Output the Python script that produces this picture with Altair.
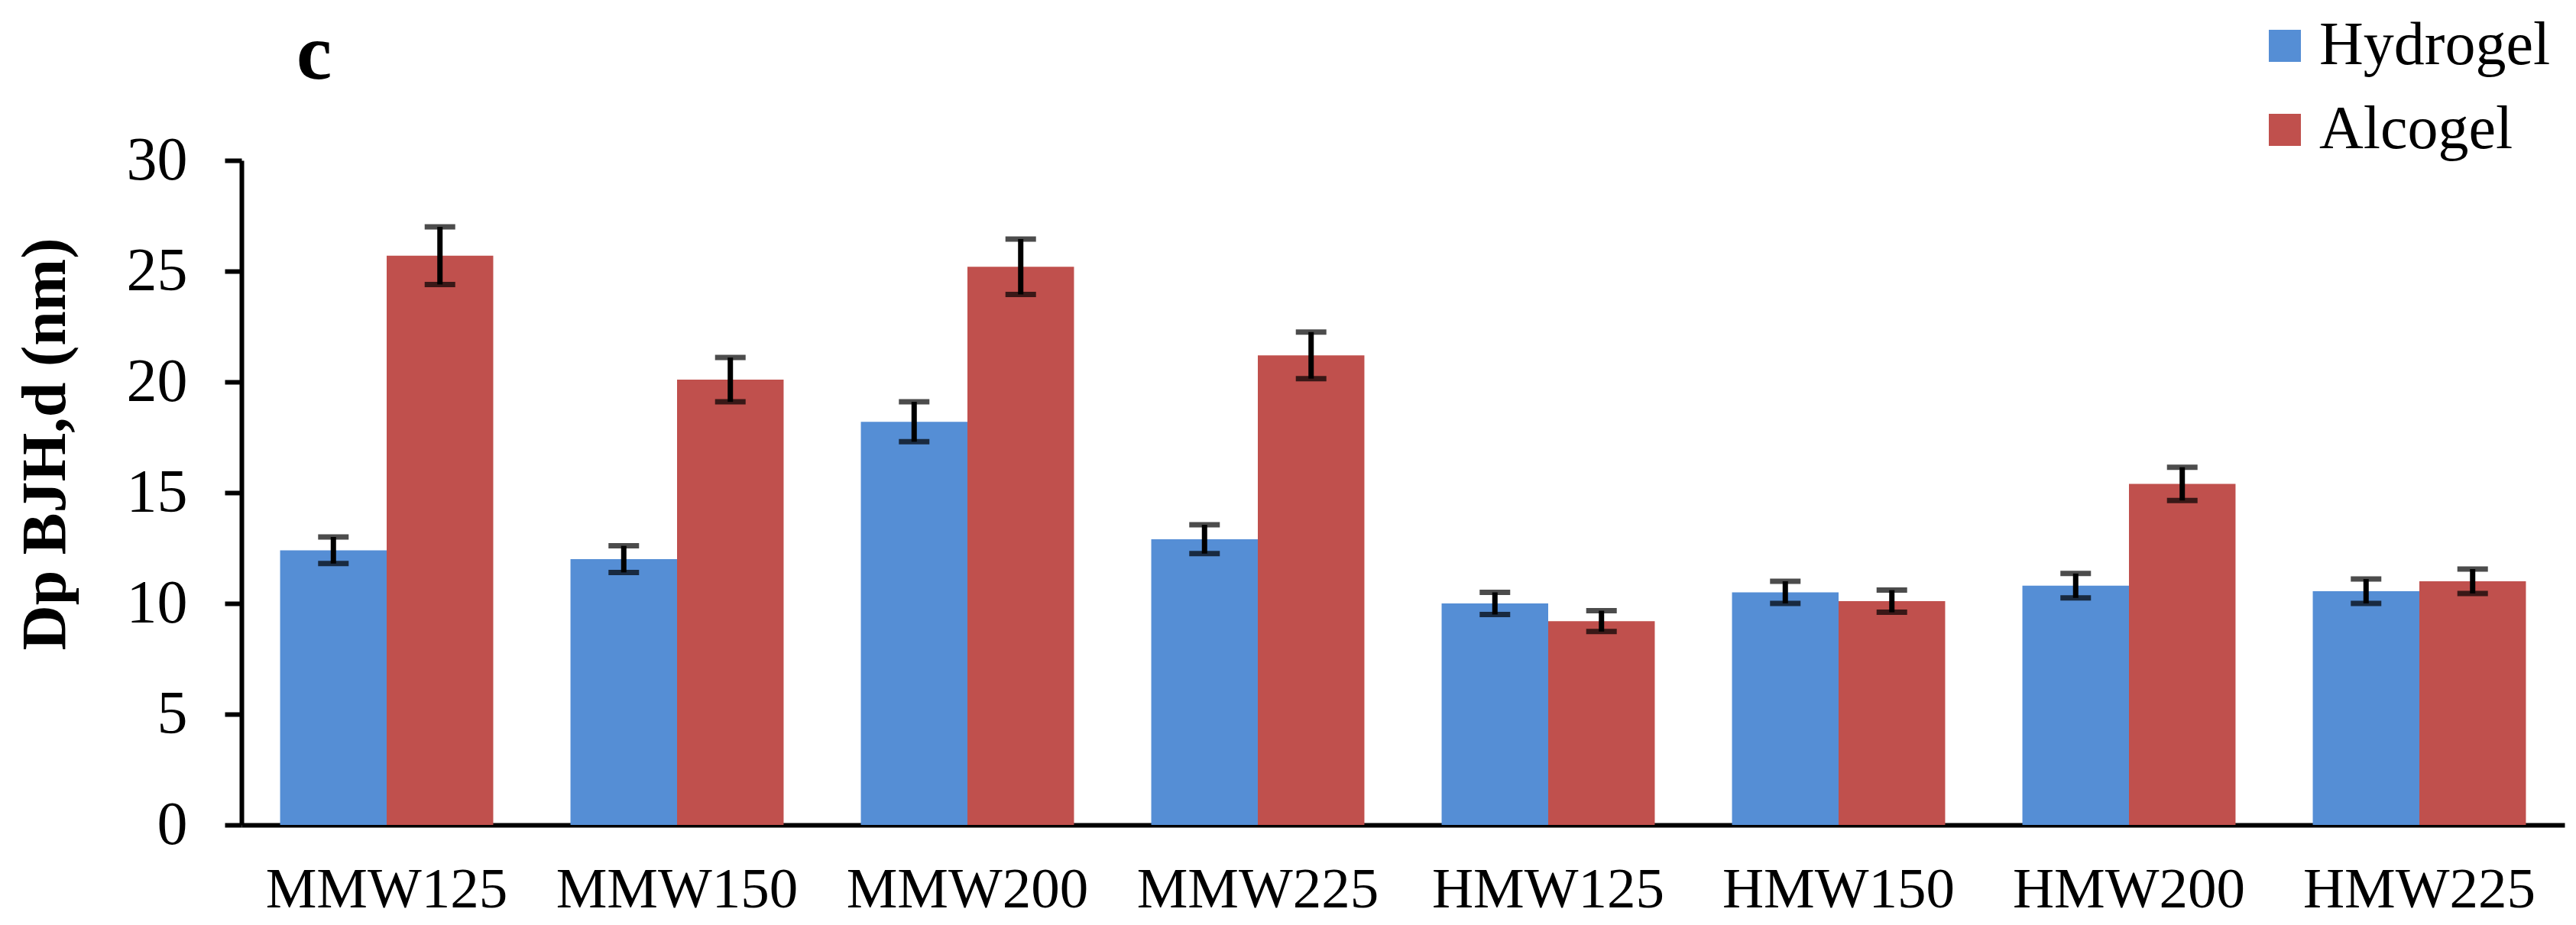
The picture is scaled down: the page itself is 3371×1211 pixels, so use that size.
import altair as alt
import pandas as pd

categories = ["MMW125", "MMW150", "MMW200", "MMW225", "HMW125", "HMW150", "HMW200", "HMW225"]
series = ["Hydrogel", "Alcogel"]
hydrogel = [12.4, 12.0, 18.2, 12.9, 10.0, 10.5, 10.8, 10.55]
hydrogel_err = [0.6, 0.6, 0.9, 0.65, 0.5, 0.5, 0.55, 0.55]
alcogel = [25.7, 20.1, 25.2, 21.2, 9.2, 10.1, 15.4, 11.0]
alcogel_err = [1.3, 1.0, 1.25, 1.05, 0.47, 0.5, 0.75, 0.55]
colors = ["#558ED5", "#C0504D"]
panel_label = ["c"]

rows = []
for s, vals, errs in [("Hydrogel", hydrogel, hydrogel_err), ("Alcogel", alcogel, alcogel_err)]:
    for c, v, e in zip(categories, vals, errs):
        rows.append({"cat": c, "series": s, "value": v, "lo": v - e, "hi": v + e})
df = pd.DataFrame(rows)

FONT = "Liberation Serif"

x = alt.X("cat:N", sort=categories, title=None,
          scale=alt.Scale(paddingInner=0.266, paddingOuter=0.133),
          axis=alt.Axis(labelFont=FONT, labelFontSize=75, labelColor="black", labelAngle=0,
                        labelLimit=0, labelBaseline="alphabetic", labelPadding=107,
                        ticks=False, tickSize=0, domainColor="black", domainWidth=6))
xo = alt.XOffset("series:N", sort=series, scale=alt.Scale(paddingInner=0, paddingOuter=0))

bars = alt.Chart(df).mark_bar().encode(
    x=x, xOffset=xo,
    y=alt.Y("value:Q", scale=alt.Scale(domain=[0, 30], nice=False),
            axis=alt.Axis(values=[0, 5, 10, 15, 20, 25, 30], grid=False, tickSize=22, tickWidth=6,
                          tickColor="black", domainColor="black", domainWidth=6,
                          labelFont=FONT, labelFontSize=80, labelColor="black", labelPadding=49,
                          title="Dp BJH,d (nm)", titleFont=FONT, titleFontSize=82,
                          titleFontWeight="bold", titleColor="black", titleAngle=270,
                          titleX=-232, titleY=371, titleAlign="center", titleBaseline="alphabetic")),
    color=alt.Color("series:N", sort=series,
                    scale=alt.Scale(domain=series, range=colors),
                    legend=alt.Legend(title=None, orient="none", legendX=2634, legendY=-190,
                                      symbolType="square", symbolSize=1764, symbolStrokeWidth=0,
                                      labelFont=FONT, labelFontSize=80, labelColor="black",
                                      labelLimit=0, labelOffset=5, rowPadding=30, padding=0,
                                      direction="vertical")),
)

rules = alt.Chart(df).mark_rule(color="black", strokeWidth=7).encode(
    x=alt.X("cat:N", sort=categories), xOffset=xo,
    y="lo:Q", y2="hi:Q",
)
caps_hi = alt.Chart(df).mark_tick(color="black", thickness=7, size=40).encode(
    x=alt.X("cat:N", sort=categories), xOffset=xo, y="hi:Q",
)
caps_lo = alt.Chart(df).mark_tick(color="black", thickness=7, size=40).encode(
    x=alt.X("cat:N", sort=categories), xOffset=xo, y="lo:Q",
)

label = alt.Chart(pd.DataFrame({"t": panel_label})).mark_text(
    font=FONT, fontSize=104, fontWeight="bold", color="black",
    align="left", baseline="alphabetic",
).encode(text="t:N", x=alt.value(72), y=alt.value(-107))

chart = alt.layer(bars, rules, caps_hi, caps_lo, label).properties(
    width=3040, height=870,
    background="white",
    autosize=alt.AutoSizeParams(type="none"),
    padding={"left": 308, "top": 202, "right": 7, "bottom": 123},
).configure_view(stroke=None)

chart.save("out.html", embed_options={"renderer": "svg", "actions": False})
